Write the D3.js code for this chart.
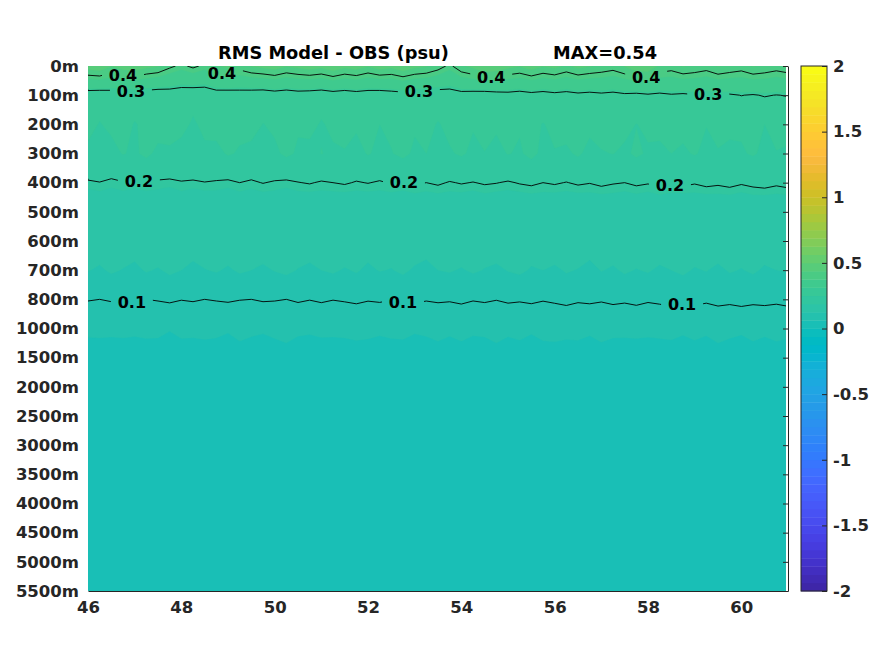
<!DOCTYPE html>
<html>
<head>
<meta charset="utf-8">
<script src="https://cdn.jsdelivr.net/npm/d3@7"></script>
<style>
  body { margin: 0; background: #fff; }
  text { font-family: "DejaVu Sans", sans-serif; font-weight: bold; }
</style>
</head>
<body>
<div id="chart"></div>
<script>
// grid longitudes (columns)
var lons = [46,46.25,46.5,46.75,47,47.25,47.5,47.75,48,48.25,
  48.5,48.75,49,49.25,49.5,49.75,50,50.25,50.5,50.75,
  51,51.25,51.5,51.75,52,52.25,52.5,52.75,53,53.25,
  53.5,53.75,54,54.25,54.5,54.75,55,55.25,55.5,55.75,
  56,56.25,56.5,56.75,57,57.25,57.5,57.75,58,58.25,
  58.5,58.75,59,59.25,59.5,59.75,60,60.25,60.5,60.75,
  61];

// depth levels (rows), plotted at equal spacing
var depthLabels = ["0m","100m","200m","300m","400m","500m","600m","700m","800m","1000m",
  "1500m","2000m","2500m","3000m","3500m","4000m","4500m","5000m","5500m"];

var xTicks = [46,48,50,52,54,56,58,60];
var cbarTicks = [-2,-1.5,-1,-0.5,0,0.5,1,1.5,2];
var contourLevels = [0.1,0.2,0.3,0.4];

// where the inline contour labels sit
var labelLevel = [0.4,0.4,0.4,0.4, 0.3,0.3,0.3, 0.2,0.2,0.2, 0.1,0.1,0.1];
var labelLon   = [46.75,48.87,54.64,57.96, 46.92,53.09,59.29, 47.09,52.77,58.47, 46.94,52.75,58.73];

// RMS (psu) per depth row
var rms0m = [0.46,0.47,0.44,0.46,0.47,0.45,0.44,0.41,0.39,0.41,
  0.39,0.43,0.45,0.42,0.44,0.45,0.46,0.44,0.45,0.46,
  0.45,0.47,0.45,0.46,0.44,0.46,0.45,0.47,0.45,0.44,
  0.42,0.39,0.43,0.45,0.48,0.47,0.45,0.44,0.46,0.44,
  0.45,0.43,0.45,0.44,0.43,0.42,0.44,0.47,0.47,0.43,
  0.42,0.44,0.43,0.42,0.44,0.43,0.42,0.44,0.43,0.42,
  0.43];
var rms100m = [0.270,0.266,0.272,0.268,0.274,0.270,0.265,0.271,0.268,0.262,
  0.266,0.273,0.269,0.275,0.271,0.267,0.274,0.270,0.276,0.272,
  0.268,0.275,0.271,0.277,0.273,0.269,0.276,0.280,0.274,0.278,
  0.272,0.276,0.281,0.277,0.273,0.279,0.283,0.278,0.284,0.280,
  0.286,0.282,0.288,0.284,0.290,0.286,0.292,0.288,0.294,0.290,
  0.296,0.292,0.297,0.293,0.298,0.295,0.301,0.297,0.303,0.299,
  0.302];
var rms200m = [0.262,0.248,0.258,0.266,0.247,0.259,0.268,0.255,0.261,0.245,
  0.258,0.264,0.252,0.260,0.267,0.249,0.257,0.263,0.254,0.262,
  0.246,0.259,0.265,0.256,0.261,0.250,0.258,0.268,0.255,0.262,
  0.247,0.260,0.266,0.253,0.262,0.257,0.270,0.254,0.261,0.248,
  0.259,0.265,0.252,0.260,0.267,0.256,0.262,0.249,0.258,0.264,
  0.255,0.261,0.268,0.251,0.259,0.264,0.256,0.262,0.250,0.258,
  0.263];
var rms300m = [0.241,0.247,0.238,0.252,0.244,0.259,0.240,0.248,0.236,0.250,
  0.243,0.239,0.254,0.246,0.237,0.249,0.242,0.258,0.245,0.238,
  0.251,0.244,0.247,0.236,0.253,0.241,0.248,0.260,0.243,0.250,
  0.239,0.246,0.255,0.242,0.249,0.237,0.252,0.245,0.261,0.240,
  0.248,0.243,0.256,0.238,0.247,0.251,0.242,0.257,0.245,0.239,
  0.250,0.244,0.253,0.241,0.248,0.237,0.246,0.254,0.242,0.249,
  0.245];
var rms400m = [0.196,0.199,0.194,0.198,0.195,0.200,0.196,0.193,0.198,0.195,
  0.199,0.197,0.194,0.200,0.196,0.201,0.197,0.194,0.199,0.202,
  0.197,0.200,0.203,0.198,0.201,0.197,0.202,0.199,0.203,0.200,
  0.204,0.198,0.202,0.199,0.203,0.201,0.197,0.202,0.205,0.200,
  0.203,0.199,0.204,0.201,0.206,0.202,0.200,0.205,0.202,0.207,
  0.203,0.206,0.202,0.207,0.204,0.208,0.203,0.207,0.210,0.205,
  0.209];
var rms500m = [0.157,0.159,0.156,0.160,0.158,0.155,0.159,0.157,0.161,0.158,
  0.156,0.160,0.157,0.159,0.155,0.158,0.161,0.157,0.159,0.156,
  0.160,0.158,0.155,0.159,0.157,0.161,0.158,0.156,0.160,0.157,
  0.159,0.162,0.158,0.156,0.160,0.157,0.159,0.155,0.158,0.161,
  0.157,0.159,0.156,0.160,0.158,0.161,0.157,0.159,0.156,0.160,
  0.158,0.155,0.159,0.157,0.161,0.158,0.156,0.160,0.157,0.159,
  0.158];
var rms600m = [0.140,0.138,0.142,0.139,0.137,0.141,0.143,0.139,0.136,0.140,
  0.142,0.138,0.141,0.139,0.144,0.140,0.137,0.141,0.139,0.142,
  0.138,0.140,0.143,0.139,0.136,0.141,0.138,0.142,0.140,0.137,
  0.141,0.139,0.143,0.140,0.138,0.142,0.139,0.141,0.137,0.140,
  0.143,0.139,0.141,0.138,0.142,0.140,0.137,0.141,0.139,0.143,
  0.140,0.138,0.141,0.139,0.142,0.140,0.137,0.141,0.139,0.142,
  0.140];
var rms700m = [0.126,0.122,0.128,0.124,0.120,0.127,0.123,0.129,0.125,0.118,
  0.124,0.127,0.122,0.128,0.125,0.121,0.126,0.130,0.124,0.119,
  0.125,0.128,0.123,0.127,0.121,0.126,0.124,0.129,0.122,0.118,
  0.125,0.127,0.123,0.128,0.124,0.120,0.126,0.129,0.123,0.125,
  0.121,0.127,0.124,0.118,0.126,0.122,0.128,0.124,0.127,0.121,
  0.125,0.129,0.123,0.126,0.120,0.127,0.124,0.128,0.122,0.125,
  0.126];
var rms800m = [0.102,0.100,0.103,0.101,0.104,0.100,0.102,0.105,0.101,0.103,
  0.100,0.102,0.104,0.101,0.100,0.103,0.102,0.100,0.104,0.101,
  0.104,0.101,0.103,0.106,0.102,0.104,0.101,0.103,0.105,0.102,
  0.104,0.103,0.106,0.102,0.104,0.101,0.105,0.103,0.106,0.102,
  0.105,0.108,0.104,0.106,0.103,0.107,0.105,0.108,0.104,0.106,
  0.110,0.106,0.108,0.105,0.109,0.107,0.111,0.107,0.109,0.106,
  0.110];
var rms1000m = [0.067,0.069,0.066,0.068,0.065,0.069,0.067,0.064,0.068,0.066,
  0.070,0.067,0.065,0.069,0.067,0.066,0.068,0.070,0.067,0.065,
  0.069,0.066,0.068,0.067,0.070,0.066,0.069,0.067,0.065,0.068,
  0.070,0.067,0.069,0.066,0.068,0.070,0.067,0.069,0.066,0.070,
  0.068,0.070,0.069,0.067,0.070,0.068,0.066,0.069,0.067,0.070,
  0.068,0.066,0.069,0.067,0.070,0.068,0.066,0.069,0.067,0.070,
  0.068];
var rms1500m = [0.052,0.049,0.054,0.051,0.056,0.050,0.053,0.048,0.052,0.055,
  0.050,0.053,0.049,0.054,0.051,0.047,0.052,0.055,0.050,0.053,
  0.048,0.054,0.051,0.056,0.049,0.052,0.050,0.055,0.051,0.048,
  0.053,0.050,0.054,0.052,0.049,0.055,0.051,0.053,0.048,0.052,
  0.056,0.050,0.053,0.049,0.054,0.051,0.055,0.050,0.052,0.048,
  0.054,0.051,0.053,0.049,0.055,0.052,0.050,0.054,0.051,0.053,
  0.052];
// 2000m .. 5500m look uniform across the section
var rmsDeep = [0.045,0.043,0.041,0.040,0.038,0.037,0.036,0.035];

// MATLAB parula(64)
var parula = [
  [0.2422,0.1504,0.6603],[0.2504,0.1650,0.7076],[0.2578,0.1818,0.7511],[0.2647,0.1978,0.7952],
  [0.2706,0.2147,0.8364],[0.2751,0.2342,0.8710],[0.2783,0.2559,0.8991],[0.2803,0.2782,0.9221],
  [0.2813,0.3006,0.9414],[0.2810,0.3228,0.9579],[0.2795,0.3447,0.9717],[0.2760,0.3667,0.9829],
  [0.2699,0.3892,0.9906],[0.2602,0.4123,0.9952],[0.2440,0.4358,0.9988],[0.2206,0.4603,0.9973],
  [0.1963,0.4847,0.9892],[0.1834,0.5074,0.9798],[0.1786,0.5289,0.9682],[0.1764,0.5499,0.9520],
  [0.1687,0.5703,0.9359],[0.1540,0.5902,0.9218],[0.1460,0.6091,0.9079],[0.1380,0.6276,0.8973],
  [0.1248,0.6459,0.8883],[0.1113,0.6635,0.8763],[0.0952,0.6798,0.8598],[0.0689,0.6948,0.8394],
  [0.0297,0.7082,0.8163],[0.0036,0.7203,0.7917],[0.0067,0.7312,0.7660],[0.0433,0.7411,0.7394],
  [0.0964,0.7500,0.7120],[0.1408,0.7584,0.6842],[0.1717,0.7670,0.6554],[0.1938,0.7758,0.6251],
  [0.2161,0.7843,0.5923],[0.2470,0.7918,0.5567],[0.2906,0.7973,0.5188],[0.3406,0.8008,0.4789],
  [0.3909,0.8029,0.4354],[0.4456,0.8024,0.3909],[0.5044,0.7993,0.3480],[0.5616,0.7942,0.3045],
  [0.6174,0.7876,0.2612],[0.6720,0.7793,0.2227],[0.7242,0.7698,0.1910],[0.7738,0.7598,0.1646],
  [0.8203,0.7498,0.1535],[0.8634,0.7406,0.1596],[0.9035,0.7330,0.1774],[0.9393,0.7288,0.2100],
  [0.9728,0.7298,0.2394],[0.9956,0.7434,0.2371],[0.9970,0.7659,0.2199],[0.9952,0.7893,0.2028],
  [0.9892,0.8136,0.1885],[0.9786,0.8386,0.1766],[0.9676,0.8639,0.1643],[0.9610,0.8890,0.1537],
  [0.9597,0.9135,0.1423],[0.9628,0.9373,0.1265],[0.9691,0.9606,0.1064],[0.9769,0.9839,0.0805]];

function makeChart() {
  var svgWidth = 875;
  var svgHeight = 656;
  var plot = { left: 88, right: 788, top: 66, bottom: 591 };
  var cbar = { left: 801, right: 827 };
  var axisColor = "#262626";

  var svg = d3.select("#chart")
    .append("svg")
    .attr("width", svgWidth)
    .attr("height", svgHeight);

  // scales
  var xScale = d3.scaleLinear().domain([46, 61]).range([plot.left, plot.right]);
  var yScale = d3.scaleLinear().domain([0, depthLabels.length - 1]).range([plot.top, plot.bottom]);
  var cScale = d3.scaleLinear().domain([-2, 2]).range([plot.bottom, plot.top]);

  // build the grid
  var rows = [rms0m, rms100m, rms200m, rms300m, rms400m, rms500m, rms600m, rms700m, rms800m, rms1000m, rms1500m];
  rmsDeep.forEach(function(v) {
    rows.push(lons.map(function() { return v; }));
  });
  var nx = lons.length, ny = rows.length;
  var values = [].concat.apply([], rows);
  var dLon = lons[1] - lons[0];

  // grid coords -> pixels (d3.contours puts value i at i + 0.5)
  function gx(c) { return xScale(lons[0] + (c - 0.5) * dLon); }
  function gy(r) { return yScale(r - 0.5); }
  var gridPath = d3.geoPath(d3.geoTransform({
    point: function(x, y) { this.stream.point(gx(x), gy(y)); }
  }));

  var nColors = parula.length;
  var cmin = -2, cmax = 2;
  function colorIndex(v) {
    return Math.max(0, Math.min(nColors - 1, Math.floor((v - cmin) / (cmax - cmin) * nColors + 1e-9)));
  }
  function colorOf(k) {
    var c = parula[k];
    return d3.rgb(c[0] * 255, c[1] * 255, c[2] * 255).toString();
  }

  var defs = svg.append("defs");
  defs.append("clipPath").attr("id", "plotClip")
    .append("rect")
    .attr("x", plot.left)
    .attr("y", plot.top)
    .attr("width", plot.right - 2 - plot.left)
    .attr("height", plot.bottom - plot.top);

  // filled bands
  var fieldGroup = svg.append("g").attr("clip-path", "url(#plotClip)");
  var baseK = colorIndex(d3.min(values));
  var topK = colorIndex(d3.max(values));
  fieldGroup.append("rect")
    .attr("x", plot.left)
    .attr("y", plot.top)
    .attr("width", plot.right - plot.left)
    .attr("height", plot.bottom - plot.top)
    .attr("fill", colorOf(baseK));

  var bandThresholds = d3.range(baseK + 1, topK + 1).map(function(k) {
    return cmin + k * (cmax - cmin) / nColors;
  });
  var bands = d3.contours().size([nx, ny]).thresholds(bandThresholds)(values);
  fieldGroup.selectAll("path.band")
    .data(bands)
    .enter()
    .append("path")
    .attr("class", "band")
    .attr("d", gridPath)
    .attr("fill", function(d) { return colorOf(colorIndex(d.value)); })
    .attr("stroke", function(d) { return colorOf(colorIndex(d.value)); })
    .attr("stroke-width", 0.3);

  // contour lines
  var lines = d3.contours().size([nx, ny]).thresholds(contourLevels)(values);

  // find label y on its contour line
  function yOnContour(level, lon) {
    var px = xScale(lon);
    var c = lines.find(function(d) { return Math.abs(d.value - level) < 1e-9; });
    var hits = [];
    c.coordinates.forEach(function(poly) {
      poly.forEach(function(ring) {
        for (var i = 1; i < ring.length; i++) {
          var x0 = gx(ring[i - 1][0]), y0 = gy(ring[i - 1][1]);
          var x1 = gx(ring[i][0]), y1 = gy(ring[i][1]);
          if ((x0 - px) * (x1 - px) <= 0 && x0 !== x1) {
            var y = y0 + (y1 - y0) * (px - x0) / (x1 - x0);
            if (y > plot.top + 2 && y < plot.bottom) hits.push(y);
          }
        }
      });
    });
    return hits.length ? d3.max(hits) : yScale(0.3);
  }

  var labels = labelLevel.map(function(lv, i) {
    return { level: lv, x: xScale(labelLon[i]), y: yOnContour(lv, labelLon[i]) };
  });

  var mask = defs.append("mask").attr("id", "labelMask")
    .attr("maskUnits", "userSpaceOnUse")
    .attr("x", 0).attr("y", 0).attr("width", svgWidth).attr("height", svgHeight);
  mask.append("rect").attr("width", svgWidth).attr("height", svgHeight).attr("fill", "white");
  mask.selectAll("rect.gap")
    .data(labels)
    .enter()
    .append("rect")
    .attr("class", "gap")
    .attr("x", function(d) { return d.x - 21; })
    .attr("y", function(d) { return d.y - 8; })
    .attr("width", 42)
    .attr("height", 16)
    .attr("fill", "black");

  svg.append("g")
    .attr("mask", "url(#labelMask)")
    .append("g")
    .attr("clip-path", "url(#plotClip)")
    .selectAll("path")
    .data(lines)
    .enter()
    .append("path")
    .attr("d", gridPath)
    .attr("fill", "none")
    .attr("stroke", "#000")
    .attr("stroke-width", 0.9);

  svg.append("g").selectAll("text")
    .data(labels)
    .enter()
    .append("text")
    .attr("x", function(d) { return d.x; })
    .attr("y", function(d) { return d.y; })
    .attr("dy", "0.36em")
    .attr("text-anchor", "middle")
    .attr("font-size", "16px")
    .attr("fill", "#000")
    .text(function(d) { return d.level; });

  // axes
  var leftAxis = d3.axisLeft(yScale)
    .tickValues(d3.range(depthLabels.length))
    .tickFormat(function(i) { return depthLabels[i]; })
    .tickSize(0)
    .tickPadding(9);
  var gLeft = svg.append("g")
    .attr("transform", `translate(${plot.left}, 0)`)
    .call(leftAxis);
  gLeft.select(".domain").remove();

  var bottomAxis = d3.axisBottom(xScale)
    .tickValues(xTicks)
    .tickSize(0)
    .tickSizeOuter(0)
    .tickPadding(10)
    .tickFormat(function(d) { return String(d); });
  svg.append("g")
    .attr("transform", `translate(0, ${plot.bottom})`)
    .call(bottomAxis);

  var rightAxis = d3.axisRight(yScale)
    .tickValues(d3.range(depthLabels.length))
    .tickSize(-5)
    .tickSizeOuter(0)
    .tickFormat("");
  svg.append("g")
    .attr("transform", `translate(${plot.right}, 0)`)
    .call(rightAxis);

  // colorbar
  var cbarGroup = svg.append("g");
  cbarGroup.selectAll("rect.swatch")
    .data(parula)
    .enter()
    .append("rect")
    .attr("class", "swatch")
    .attr("x", cbar.left)
    .attr("y", function(d, k) { return cScale(cmin + (k + 1) * (cmax - cmin) / nColors); })
    .attr("width", cbar.right - cbar.left)
    .attr("height", function(d, k) {
      return cScale(cmin + k * (cmax - cmin) / nColors) - cScale(cmin + (k + 1) * (cmax - cmin) / nColors) + 0.4;
    })
    .attr("fill", function(d, k) { return colorOf(k); });

  cbarGroup.append("rect")
    .attr("x", cbar.left)
    .attr("y", cScale(cmax))
    .attr("width", cbar.right - cbar.left)
    .attr("height", cScale(cmin) - cScale(cmax))
    .attr("fill", "none")
    .attr("stroke", axisColor)
    .attr("stroke-width", 1);

  var cbarAxis = d3.axisRight(cScale)
    .tickValues(cbarTicks)
    .tickSize(-5)
    .tickSizeOuter(0)
    .tickPadding(6)
    .tickFormat(function(d) { return String(d); });
  var gC = svg.append("g")
    .attr("transform", `translate(${cbar.right}, 0)`)
    .call(cbarAxis);
  gC.select(".domain").remove();

  // axis styling
  svg.selectAll(".tick text")
    .attr("font-size", "16.5px")
    .attr("font-family", "'DejaVu Sans', sans-serif")
    .attr("font-weight", "bold")
    .attr("fill", axisColor);
  svg.selectAll(".tick line").attr("stroke", axisColor);
  svg.selectAll(".domain").attr("stroke", axisColor);

  // title
  var titleY = 59;
  var mid = (plot.left + plot.right) / 2;
  svg.append("text")
    .attr("x", mid - 220)
    .attr("y", titleY)
    .attr("text-anchor", "start")
    .attr("font-size", "17.8px")
    .attr("fill", "#000")
    .text("RMS Model - OBS (psu)");
  svg.append("text")
    .attr("x", mid + 219)
    .attr("y", titleY)
    .attr("text-anchor", "end")
    .attr("font-size", "17.8px")
    .attr("fill", "#000")
    .text("MAX=0.54");
}

makeChart();
</script>
</body>
</html>
